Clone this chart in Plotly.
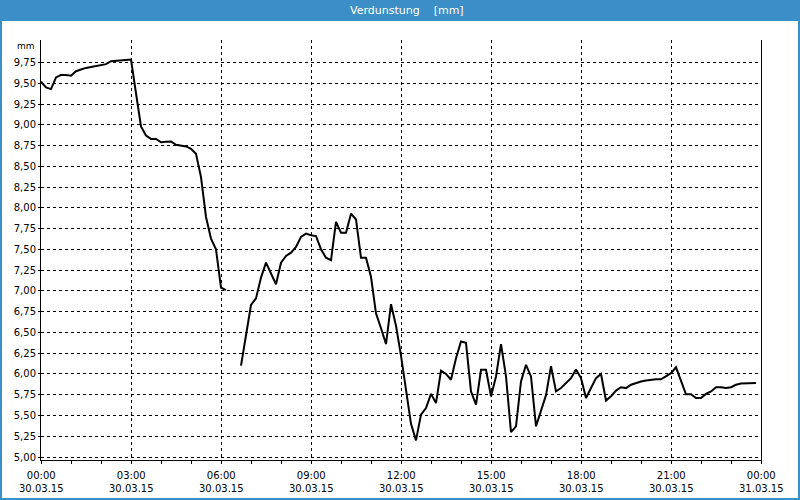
import plotly.graph_objects as go

# ---- data (10-minute values, 30.03.2015) ----
times_seg1 = ["00:00","00:10","00:20","00:30","00:40","00:50","01:00","01:10","01:20","01:30",
              "01:40","01:50","02:00","02:10","02:20","02:30","02:40","02:50","03:00","03:10",
              "03:20","03:30","03:40","03:50","04:00","04:10","04:20","04:30","04:40","04:50",
              "05:00","05:10","05:20","05:30","05:40","05:50","06:00","06:10"]
vals_seg1 = [9.52,9.45,9.43,9.57,9.60,9.60,9.59,9.645,9.665,9.685,
             9.695,9.705,9.715,9.73,9.765,9.77,9.77,9.775,9.785,9.38,
             8.98,8.87,8.83,8.83,8.79,8.795,8.80,8.76,8.75,8.74,
             8.71,8.65,8.37,7.89,7.63,7.50,7.04,7.01]

times_gap = ["06:20","06:30"]

times_seg2 = ["06:40","06:50","07:00","07:10","07:20","07:30","07:40","07:50","08:00","08:10",
              "08:20","08:30","08:40","08:50","09:00","09:10","09:20","09:30","09:40","09:50",
              "10:00","10:10","10:20","10:30","10:40","10:50","11:00","11:10","11:20","11:30",
              "11:40","11:50","12:00","12:10","12:20","12:30","12:40","12:50","13:00","13:10",
              "13:20","13:30","13:40","13:50","14:00","14:10","14:20","14:30","14:40","14:50",
              "15:00","15:10","15:20","15:30","15:40","15:50","16:00","16:10","16:20","16:30",
              "16:40","16:50","17:00","17:10","17:20","17:30","17:40","17:50","18:00","18:10",
              "18:20","18:30","18:40","18:50","19:00","19:10","19:20","19:30","19:40","19:50",
              "20:00","20:10","20:20","20:30","20:40","20:50","21:00","21:10","21:20","21:30",
              "21:40","21:50","22:00","22:10","22:20","22:30","22:40","22:50","23:00","23:10",
              "23:20","23:30","23:40","23:50"]
vals_seg2 = [6.10,6.49,6.83,6.91,7.16,7.34,7.21,7.08,7.34,7.42,
             7.46,7.53,7.65,7.69,7.67,7.66,7.50,7.40,7.37,7.83,
             7.70,7.70,7.93,7.86,7.40,7.40,7.17,6.73,6.55,6.36,
             6.84,6.58,6.22,5.80,5.40,5.20,5.51,5.59,5.76,5.65,
             6.04,6.00,5.93,6.19,6.39,6.375,5.79,5.63,6.05,6.05,
             5.73,5.97,6.36,5.97,5.30,5.37,5.91,6.11,5.97,5.37,
             5.545,5.745,6.095,5.79,5.83,5.89,5.95,6.055,5.95,5.71,
             5.83,5.95,6.00,5.68,5.73,5.80,5.84,5.83,5.87,5.89,
             5.91,5.92,5.93,5.935,5.935,5.97,6.01,6.08,5.91,5.755,
             5.755,5.71,5.71,5.76,5.79,5.84,5.84,5.83,5.84,5.87,
             5.885,5.885,5.89,5.89]

x_tick_vals = ["2015-03-30 00:00","2015-03-30 03:00","2015-03-30 06:00","2015-03-30 09:00",
               "2015-03-30 12:00","2015-03-30 15:00","2015-03-30 18:00","2015-03-30 21:00",
               "2015-03-31 00:00"]
x_tick_text = ["00:00<br>30.03.15","03:00<br>30.03.15","06:00<br>30.03.15","09:00<br>30.03.15",
               "12:00<br>30.03.15","15:00<br>30.03.15","18:00<br>30.03.15","21:00<br>30.03.15",
               "00:00<br>31.03.15"]
y_tick_vals = [5.00,5.25,5.50,5.75,6.00,6.25,6.50,6.75,7.00,7.25,7.50,7.75,8.00,8.25,8.50,8.75,9.00,9.25,9.50,9.75]

title_text = "Verdunstung\u00a0\u00a0\u00a0\u00a0[mm]"
unit_text = "mm"

# ---- build ----
x_all = ["2015-03-30 " + t for t in times_seg1 + times_gap + times_seg2]
y_all = vals_seg1 + [None] * len(times_gap) + vals_seg2
x_range = ["2015-03-30 00:00", "2015-03-31 00:00"]

BLUE = "#3c8fc6"
FONT = "DejaVu Sans"

fig = go.Figure()
fig.add_trace(go.Scatter(x=x_all, y=y_all, mode="lines",
                         line=dict(color="#000000", width=2),
                         connectgaps=False, hoverinfo="skip"))

fig.update_layout(
    width=800, height=500,
    margin=dict(l=41, r=39, t=40, b=40, autoexpand=False),
    paper_bgcolor="#ffffff", plot_bgcolor="#ffffff",
    showlegend=False,
    separators=",.",
    font=dict(family=FONT, size=10, color="#000000"),
    xaxis=dict(
        type="date", range=x_range,
        tickvals=x_tick_vals, showticklabels=False,
        showgrid=True, gridcolor="#000000", gridwidth=1, griddash="3px,3px",
        showline=True, linecolor="#000000", linewidth=1, mirror=False,
        ticks="outside", ticklen=3, tickcolor="#000000",
        minor=dict(dtick=3600000, ticks="outside", ticklen=3, tickcolor="#000000", showgrid=False),
        zeroline=False, fixedrange=True, automargin=False,
    ),
    yaxis=dict(
        range=[4.964, 10.021],
        tickvals=y_tick_vals, tickformat=".2f",
        showgrid=True, gridcolor="#000000", gridwidth=1, griddash="3px,3px",
        showline=True, linecolor="#000000", linewidth=1, mirror=True,
        ticks="outside", ticklen=2, tickcolor="#000000",
        tickfont=dict(family=FONT, size=10, color="#000000"),
        zeroline=False, fixedrange=True, automargin=False,
    ),
)

# frame: title bar + thin blue border (paper coords mapped from pixels)
def px_x(p):
    return (p - 41) / 720.0

def px_y(p):
    return (460 - p) / 420.0

fig.add_shape(type="rect", xref="paper", yref="paper",
              x0=px_x(0), x1=px_x(800), y0=px_y(21), y1=px_y(0),
              fillcolor=BLUE, line=dict(width=0), layer="above")
fig.add_shape(type="rect", xref="paper", yref="paper",
              x0=px_x(1), x1=px_x(799), y0=px_y(499), y1=px_y(1),
              fillcolor="rgba(0,0,0,0)", line=dict(color=BLUE, width=2), layer="above")

# two-line x tick labels placed at the tick values
for tv, tt in zip(x_tick_vals, x_tick_text):
    fig.add_annotation(text=tt, xref="x", yref="paper", x=tv, y=px_y(481.5),
                       xanchor="center", yanchor="middle", align="center",
                       showarrow=False, font=dict(family=FONT, size=10, color="#000000"))

fig.add_annotation(text=title_text, xref="paper", yref="paper",
                   x=px_x(407), y=px_y(10.5), xanchor="center", yanchor="middle",
                   showarrow=False, font=dict(family=FONT, size=11, color="#ffffff"))
fig.add_annotation(text=unit_text, xref="paper", yref="paper",
                   x=px_x(37), y=px_y(46), xanchor="right", yanchor="middle",
                   showarrow=False, font=dict(family=FONT, size=9, color="#000000"))

fig.write_html("out.html")
